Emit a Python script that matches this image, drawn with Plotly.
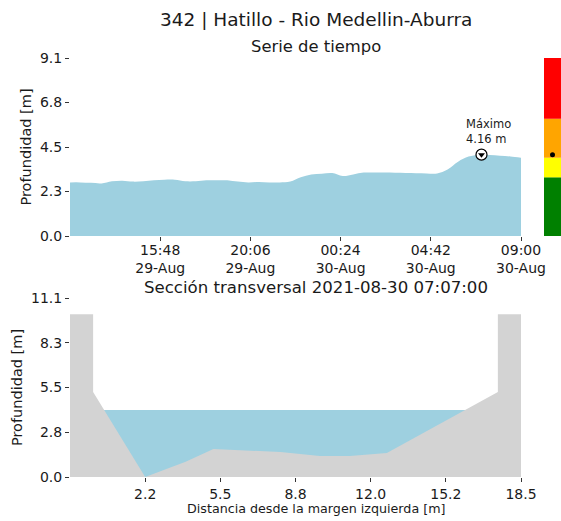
import pandas as pd
import plotly.graph_objects as go

# ---------------- data ----------------
station_title = "342 | Hatillo - Rio Medellin-Aburra"
series_title = "Serie de tiempo"
section_title = "Sección transversal 2021-08-30 07:07:00"

start_time = "2021-08-29 11:30:00"
end_time = "2021-08-30 09:00:00"
depth_values = [2.74, 2.74, 2.72, 2.69, 2.80, 2.83, 2.78, 2.80, 2.85, 2.88,
                2.88, 2.80, 2.80, 2.85, 2.85, 2.85, 2.78, 2.74, 2.76, 2.74,
                2.74, 2.78, 3.00, 3.14, 3.18, 3.22, 3.07, 3.15, 3.24, 3.25,
                3.24, 3.23, 3.22, 3.21, 3.20, 3.20, 3.40, 3.80, 4.06, 4.16,
                4.14, 4.10, 4.06, 4.00]
times = pd.date_range(start_time, end_time, periods=len(depth_values))

max_time = "2021-08-30 07:07:00"
max_value = 4.16

time_tickvals = ["2021-08-29 15:48", "2021-08-29 20:06", "2021-08-30 00:24",
                 "2021-08-30 04:42", "2021-08-30 09:00"]
time_ticktext = ["15:48<br>29-Aug", "20:06<br>29-Aug", "00:24<br>30-Aug",
                 "04:42<br>30-Aug", "09:00<br>30-Aug"]
top_y_tickvals = [0.0, 2.275, 4.55, 6.825, 9.1]
top_y_ticktext = ["0.0", "2.3", "4.5", "6.8", "9.1"]

# alert levels (bottom, height, colour)
level_bases = [0, 3, 4, 6]
level_heights = [3, 1, 2, 3.1]
level_colors = ["#008000", "#FFFF00", "#FFA500", "#FF0000"]

# cross-section profile
section_x = [-1.0, 0.0, 0.0, 2.25, 4.0, 5.2, 8.1, 9.8, 11.1, 12.7, 17.5, 17.5, 18.5]
section_y = [10.1, 10.1, 5.27, 0.0, 0.95, 1.74, 1.55, 1.30, 1.30, 1.49, 5.27, 10.1, 10.1]
water_level = 4.16
dist_tickvals = [2.25, 5.5, 8.75, 12.0, 15.25, 18.5]
dist_ticktext = ["2.2", "5.5", "8.8", "12.0", "15.2", "18.5"]
sec_y_tickvals = [0.0, 2.775, 5.55, 8.325, 11.1]
sec_y_ticktext = ["0.0", "2.8", "5.5", "8.3", "11.1"]

# ---------------- figure ----------------
W, H = 561, 521
water_color = "#9ED0E0"
gray = "#D3D3D3"
font = "DejaVu Sans"
txt = "#1a1a1a"

fig = go.Figure()

# time series
fig.add_trace(go.Scatter(x=times, y=depth_values, mode="lines", line=dict(width=0, shape="spline", color=water_color),
                         fill="tozeroy", fillcolor=water_color, xaxis="x", yaxis="y", hoverinfo="skip"))
fig.add_trace(go.Scatter(x=[max_time], y=[max_value], mode="markers",
                         marker=dict(symbol="circle", size=11, color="white", line=dict(color="black", width=1.2)),
                         xaxis="x", yaxis="y"))
fig.add_trace(go.Scatter(x=[max_time], y=[max_value], mode="markers",
                         marker=dict(symbol="triangle-down", size=6, color="black"),
                         xaxis="x", yaxis="y"))

# level bar
fig.add_trace(go.Bar(x=[0] * len(level_bases), y=level_heights, base=level_bases, width=1,
                     marker=dict(color=level_colors, line=dict(width=0)), xaxis="x3", yaxis="y3"))
fig.add_trace(go.Scatter(x=[0], y=[max_value], mode="markers", marker=dict(color="black", size=5),
                         xaxis="x3", yaxis="y3"))

# cross section
fig.add_trace(go.Scatter(x=[0.0, 17.5], y=[water_level, water_level], mode="lines", line=dict(width=0),
                         fill="tozeroy", fillcolor=water_color, xaxis="x2", yaxis="y2"))
fig.add_trace(go.Scatter(x=section_x, y=section_y, mode="lines", line=dict(width=0, color=gray),
                         fill="tozeroy", fillcolor=gray, xaxis="x2", yaxis="y2"))

xl, xr = 70 / W, 521 / W
top_dom = [1 - 236 / H, 1 - 58 / H]
bot_dom = [1 - 477 / H, 1 - 298 / H]
title_x = 316 / W

axis_common = dict(showgrid=False, zeroline=False, showline=False, ticks="outside", ticklen=4,
                   tickcolor="#333", automargin=False,
                   tickfont=dict(family=font, size=14, color=txt))

fig.update_layout(
    width=W, height=H, margin=dict(l=0, r=0, t=0, b=0),
    plot_bgcolor="white", paper_bgcolor="white", showlegend=False, barmode="overlay",
    font=dict(family=font, color=txt),
    xaxis=dict(domain=[xl, xr], anchor="y", type="date", range=[start_time, end_time],
               tickvals=time_tickvals, ticktext=time_ticktext, ticklabelstandoff=-3, **axis_common),
    yaxis=dict(domain=top_dom, anchor="x", range=[0, 9.1], tickvals=top_y_tickvals, ticktext=top_y_ticktext,
               title=dict(text="Profundidad [m]", font=dict(family=font, size=14.5, color=txt), standoff=4),
               **axis_common),
    xaxis2=dict(domain=[xl, xr], anchor="y2", range=[-1.0, 18.5], tickvals=dist_tickvals, ticktext=dist_ticktext,
                **axis_common),
    yaxis2=dict(domain=bot_dom, anchor="x2", range=[0, 11.1], tickvals=sec_y_tickvals, ticktext=sec_y_ticktext,
                title=dict(text="Profundidad [m]", font=dict(family=font, size=14.5, color=txt), standoff=4),
                **axis_common),
    xaxis3=dict(domain=[544 / W, 1.0], anchor="y3", range=[-0.5, 0.5], visible=False, automargin=False),
    yaxis3=dict(domain=top_dom, anchor="x3", range=[0, 9.1], visible=False, automargin=False),
    annotations=[
        dict(text=station_title, x=title_x, y=1 - 20 / H, xref="paper", yref="paper", showarrow=False,
             font=dict(family=font, size=18.5, color=txt), xanchor="center", yanchor="middle"),
        dict(text=series_title, x=title_x, y=1 - 46 / H, xref="paper", yref="paper", showarrow=False,
             font=dict(family=font, size=16.4, color=txt), xanchor="center", yanchor="middle"),
        dict(text=section_title, x=title_x, y=1 - 287 / H, xref="paper", yref="paper", showarrow=False,
             font=dict(family=font, size=16.6, color=txt), xanchor="center", yanchor="middle"),
        dict(text="Distancia desde la margen izquierda [m]", x=title_x, y=1 - 508 / H, xref="paper", yref="paper",
             showarrow=False, font=dict(family=font, size=12.7, color=txt), xanchor="center", yanchor="middle"),
        dict(text="Máximo<br>4.16 m", x=max_time, y=max_value, xref="x", yref="y", showarrow=False,
             xanchor="left", yanchor="bottom", xshift=-17, yshift=7, align="left",
             font=dict(family=font, size=11.5, color=txt)),
    ],
)

fig.write_html("out.html", config={"displayModeBar": False},
               post_script="document.body.style.margin='0';document.body.style.overflow='hidden';")
